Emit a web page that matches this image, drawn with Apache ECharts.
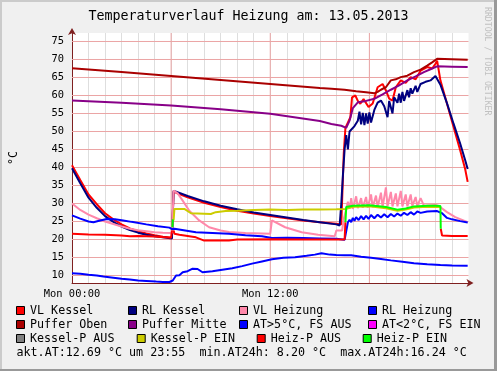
<!DOCTYPE html>
<html><head><meta charset="utf-8">
<script src="https://cdn.jsdelivr.net/npm/echarts@6/dist/echarts.min.js"></script>
<style>html,body{margin:0;padding:0;background:#F0F0F0}#c{width:497px;height:371px}</style>
</head><body><div id="c"></div>
<script>
// ---- data (x = hour of day, y = °C) ----
const vlKessel = [[0,40.6],[0.5,36.5],[1,32.5],[1.5,29.8],[2,27.3],[2.5,25.6],[3,24.2],[3.5,23.1],[4,22.3],[4.5,21.7],[5,21.2],[5.5,20.8],[6.05,20.5],[6.15,33.3],[6.3,33.0],[7,31.7],[8,30.2],[9,29.0],[10,28.0],[11,27.2],[12,26.5],[13,25.9],[14,25.3],[15,24.8],[16,24.4],[16.3,24.2],[16.45,44],[16.55,51],[16.85,54],[16.95,59.5],[17.15,60],[17.3,58.5],[17.45,57.7],[17.65,59],[17.95,56.8],[18.2,57.8],[18.5,62.3],[18.8,63.2],[19.0,61.4],[19.2,59.1],[19.4,58.6],[19.6,62.3],[19.9,64.2],[20.2,63.5],[20.5,65.1],[20.8,64.5],[21.1,66.9],[21.5,67.9],[21.8,67.5],[22.0,68.8],[22.1,69.7],[22.3,64.2],[22.7,57.7],[23.1,51.2],[23.5,44.7],[23.8,39.5],[23.95,36]];
const rlKessel = [[0,39.8],[0.5,35.6],[1,31.6],[1.5,28.8],[2,26.5],[2.5,24.9],[3,23.6],[3.5,22.6],[4,21.9],[4.5,21.3],[5,20.9],[5.5,20.6],[6.05,20.3],[6.15,33.5],[6.3,33.3],[7,32.1],[8,30.6],[9,29.4],[10,28.4],[11,27.5],[12,26.8],[13,26.1],[14,25.4],[15,24.8],[16,24.2],[16.2,23.9],[16.3,30],[16.4,38],[16.5,45],[16.6,49],[16.7,45],[16.8,50],[16.9,50.5],[17.1,51.5],[17.3,53],[17.4,55.5],[17.5,52],[17.6,55.2],[17.7,51.8],[17.8,55],[17.9,52.2],[18.0,55.3],[18.1,52.5],[18.3,56],[18.5,58],[18.7,58.6],[18.9,57],[19.1,54],[19.2,58.5],[19.4,55],[19.5,59.5],[19.7,58],[19.8,60.5],[19.9,58],[20.0,61],[20.1,58.5],[20.3,61.5],[20.4,59.5],[20.5,62],[20.6,60.5],[20.8,62.7],[20.9,61],[21.1,63.2],[21.4,63.8],[21.7,64.2],[22.0,65.4],[22.1,65.6],[22.3,63],[22.7,57.8],[23.1,52.1],[23.5,46.6],[23.8,42],[23.95,39.6]];
const vlHeizung = [[0,30.0],[0.5,28.2],[1,26.9],[1.5,25.9],[2,25.0],[2.5,24.3],[3,23.6],[3.5,23.0],[4,22.6],[4.5,22.3],[5,22.0],[5.5,21.9],[6.05,21.8],[6.15,33.6],[6.4,32.8],[6.7,30.8],[7.1,28.0],[7.7,25.3],[8.3,23.4],[9,22.5],[9.5,22.1],[10.5,21.8],[12.0,21.6],[12.1,25.3],[12.9,23.4],[13.9,22.0],[14.9,21.3],[15.9,20.9],[16.0,22.5],[16.35,22.5],[16.45,25.7],[16.6,28.5],[16.7,30.5],[16.8,28.5],[16.9,31.5],[17.0,28.5],[17.2,32],[17.3,28.7],[17.5,31.5],[17.6,28.8],[17.8,31.8],[17.9,28.8],[18.1,32.5],[18.2,28.9],[18.4,32.2],[18.5,29],[18.7,33],[18.8,29],[19.0,34.5],[19.1,29.2],[19.3,33.2],[19.4,29.2],[19.6,32.8],[19.7,29.2],[19.9,33.5],[20.0,29.2],[20.2,32.5],[20.3,29.2],[20.5,32.5],[20.6,29.3],[20.8,31.8],[20.9,29.3],[21.1,31.5],[21.3,29.4],[22.0,29.6],[22.2,29.3],[22.7,27.6],[23.2,26.2],[23.95,24.8]];
const rlHeizung = [[0,26.7],[0.5,25.8],[1,25.0],[1.3,24.8],[1.7,25.3],[2.1,25.7],[2.6,25.6],[3.1,25.3],[3.6,24.9],[4.5,24.2],[5.2,23.7],[5.9,23.3],[6.05,22.9],[6.2,23.0],[7.5,22.0],[8.5,21.8],[9.5,21.6],[10.5,21.2],[11.5,20.9],[12.1,20.4],[13,20.5],[14,20.4],[15,20.3],[16,20.2],[16.5,19.9],[16.6,19.7],[16.7,24.8],[16.8,25.5],[16.9,24.8],[17.0,26.0],[17.1,25.2],[17.2,26.2],[17.35,25.4],[17.5,26.5],[17.65,25.6],[17.8,26.6],[17.95,25.7],[18.1,26.8],[18.3,25.9],[18.5,26.9],[18.7,26.1],[18.9,27.0],[19.1,26.2],[19.3,27.1],[19.5,26.4],[19.7,27.2],[19.9,26.6],[20.1,27.4],[20.3,26.8],[20.5,27.6],[20.7,26.9],[20.9,27.8],[21.1,27.4],[21.5,27.8],[22.1,27.9],[22.4,27.3],[22.7,26.0],[23.0,25.6],[23.5,25.1],[23.95,24.7]];
const pufferOben = [[0,67.6],[3,66.5],[6,65.4],[9,64.3],[12,63.2],[15,62.1],[15.7,61.9],[16.5,61.6],[17.2,61.2],[17.8,60.9],[18.3,60.6],[18.5,61.0],[18.7,61.6],[19.0,62.3],[19.3,64.2],[19.6,64.5],[19.9,65.1],[20.3,65.5],[20.7,66.5],[21.1,67.2],[21.5,68.3],[21.8,69.2],[22.1,70.2],[23,70.1],[23.95,69.9]];
const pufferMitte = [[0,58.6],[3,58.0],[6,57.2],[9,56.2],[12,54.9],[15,52.9],[15.7,52.1],[16.3,51.6],[16.6,51.0],[16.8,53],[17.0,56.5],[17.3,58.1],[17.8,58.5],[18.3,59.1],[18.8,60.3],[19.3,61.6],[19.8,62.8],[20.3,64.2],[20.8,65.3],[21.3,66.5],[21.7,67.3],[22.1,68.1],[23,68.0],[23.95,67.9]];
const atWarm = [[0,10.6],[0.5,10.5],[1,10.2],[1.5,10.0],[1.9,9.7],[2.5,9.4],[3,9.1],[3.5,8.9],[4,8.6],[4.5,8.5],[5.1,8.3],[5.5,8.2],[5.9,8.2],[6.1,8.6],[6.3,10.0],[6.5,10.1],[6.7,10.9],[7.0,11.2],[7.3,11.9],[7.6,11.8],[7.9,10.9],[8.5,11.2],[9.1,11.6],[9.7,12.0],[10.3,12.6],[10.9,13.3],[11.5,13.9],[12.1,14.5],[12.8,14.9],[13.5,15.1],[14.2,15.5],[14.7,15.8],[15.1,16.2],[15.6,15.8],[16.0,15.7],[16.5,15.6],[16.9,15.6],[17.5,15.2],[18.1,14.9],[18.7,14.6],[19.3,14.2],[20.0,13.8],[20.7,13.4],[21.5,13.1],[22.3,12.9],[23.0,12.8],[23.95,12.7]];
const atCold = [];
const kesselPAus = [];
const kesselPEin = [[6.15,25.3],[6.2,28.5],[6.8,28.5],[7.2,27.3],[8.4,27.1],[8.7,27.6],[9.3,27.9],[10,28.0],[11,28.2],[12,28.3],[13,28.2],[14,28.3],[15,28.3],[16,28.4],[16.6,28.5],[17.0,29.1],[18.0,29.2],[19.0,28.7],[19.7,28.0],[20.2,28.3],[20.7,28.9],[21.5,29.1],[22.3,29.0]];
const heizPAus1 = [[0,21.6],[1,21.4],[2,21.3],[3,21.1],[3.5,20.9],[4,21.0],[5,20.8],[6.0,20.5],[6.05,22.5]];
const heizPAus2 = [[6.15,22.5],[6.2,21.6],[6.5,21.3],[7.5,20.6],[8,19.7],[9.5,19.7],[10,20.0],[12,20.1],[14,20.0],[16.5,20.0],[16.55,24.8]];
const heizPAus3 = [[22.32,23.0],[22.4,21.1],[23,21.0],[23.95,21.0]];
const heizPEin1 = [[6.08,23.4],[6.1,25.6]];
const heizPEin2 = [[16.55,24.8],[16.6,29.0],[17.0,29.4],[18.0,29.5],[19.0,29.0],[19.7,28.3],[20.2,28.6],[20.7,29.2],[21.5,29.4],[22.0,29.4],[22.3,29.3],[22.32,23.0]];

const yTicks = [10,15,20,25,30,35,40,45,50,55,60,65,70,75];
const xMajorHours = [6,12,18];
const xLabelHours = [0,12];
const xLabelTexts = ['Mon 00:00','Mon 12:00'];

const legendNames = ['VL Kessel','RL Kessel','VL Heizung','RL Heizung','Puffer Oben','Puffer Mitte','AT>5°C, FS AUS','AT<2°C, FS EIN','Kessel-P AUS','Kessel-P EIN','Heiz-P AUS','Heiz-P EIN'];
const legendColors = ['#FF0000','#000080','#FF88AA','#0000FF','#AA0000','#880088','#0000FF','#FF00FF','#808080','#CCCC00','#FF0000','#00FF00'];
const footerText = 'akt.AT:12.69 °C um 23:55  min.AT24h: 8.20 °C  max.AT24h:16.24 °C';
const titleText = 'Temperaturverlauf Heizung am: 13.05.2013';

// ---- layout ----
const MONO = 'DejaVu Sans Mono';
const MGRID = '#EBA5A5';
const Y_MIN = 7.917, Y_MAX = 77.361, X_MIN = 0, X_MAX = 24;
const legendPos = [[16,311],[128,311],[239,311],[368,311],[16,325],[128,325],[239,325],[368,325],[16,339],[136.7,339],[256.7,339],[362.7,339]];

const seriesDefs = [
  [vlKessel,0],[rlKessel,1],[vlHeizung,2],[rlHeizung,3],[pufferOben,4],[pufferMitte,5],
  [atWarm,6],[atCold,7],[kesselPAus,8],[kesselPEin,9],
  [heizPAus1,10],[heizPAus2,10],[heizPAus3,10],[heizPEin1,11],[heizPEin2,11]
];
const gridSeries = yTicks.map(v => [[X_MIN,v],[X_MAX,v]])
  .concat(xMajorHours.map(h => [[h,Y_MIN],[h,Y_MAX]]))
  .map(d => ({type:'line', data:d, showSymbol:false, symbol:'none', silent:true, z:1, animation:false,
    lineStyle:{width:1, color:MGRID}}));
const series = gridSeries.concat(seriesDefs.map(([d,i]) => ({
  type:'line', name:legendNames[i], data:d, showSymbol:false, symbol:'none', z:2,
  lineStyle:{width:2,color:legendColors[i]}, itemStyle:{color:legendColors[i]},
  silent:true, animation:false
})));

const graphics = [];
legendNames.forEach((n,i) => {
  const [x,y] = legendPos[i];
  graphics.push({type:'rect', shape:{x:x+0.5,y:y-4.5,width:8,height:8},
    style:{fill:legendColors[i], stroke:'#000', lineWidth:1}});
  graphics.push({type:'text', x:x+14, y:y, style:{text:n, font:'11.7px "'+MONO+'"', fill:'#000', textVerticalAlign:'middle', textAlign:'left'}});
});
graphics.push({type:'text', x:16.5, y:353, style:{text:footerText, font:'11.7px "'+MONO+'"', fill:'#000', textVerticalAlign:'middle'}});
graphics.push({type:'text', x:487, y:7, rotation:-Math.PI/2, style:{text:'RRDTOOL / TOBI OETIKER', font:'8.2px "'+MONO+'"', fill:'#C0C0C0', textVerticalAlign:'middle', textAlign:'left'}});
// frame
graphics.push({type:'rect', shape:{x:0,y:0,width:497,height:2}, style:{fill:'#CBCBCB'}});
graphics.push({type:'rect', shape:{x:0,y:0,width:2,height:371}, style:{fill:'#CBCBCB'}});
graphics.push({type:'rect', shape:{x:494,y:0,width:3,height:371}, style:{fill:'#999999'}});
graphics.push({type:'rect', shape:{x:0,y:369,width:497,height:2}, style:{fill:'#999999'}});

const chart = echarts.init(document.getElementById('c'), null, {renderer:'canvas'});
chart.setOption({
  backgroundColor:'#F0F0F0',
  animation:false,
  title:{text:titleText, left:'center', top:10, padding:0,
    textStyle:{fontFamily:MONO, fontSize:13.3, fontWeight:'normal', color:'#000'}},
  grid:{left:68.5, top:33, width:400, height:250, show:true, backgroundColor:'#FFFFFF', borderWidth:0},
  xAxis:{type:'value', min:X_MIN, max:X_MAX, interval:1,
    axisLine:{show:true, onZero:false, lineStyle:{color:'#7F2020',width:1}, symbol:['none','arrow'], symbolSize:[6,7], symbolOffset:[0,5]},
    axisTick:{show:false},
    axisLabel:{margin:6, fontFamily:MONO, fontSize:10.4, color:'#000', showMinLabel:true, showMaxLabel:true,
      formatter:v => { const k = xLabelHours.indexOf(v); return k>=0 ? xLabelTexts[k] : ''; }},
    splitLine:{show:true, showMaxLine:false, lineStyle:{width:1, color:'#DEDEDE'}}
  },
  yAxis:{type:'value', min:Y_MIN, max:Y_MAX,
    name:'°C', nameLocation:'middle', nameGap:52, nameRotate:90,
    nameTextStyle:{fontFamily:MONO, fontSize:11.7, color:'#000'},
    axisLine:{show:true, onZero:false, lineStyle:{color:'#7F2020',width:1}, symbol:['none','arrow'], symbolSize:[6,7], symbolOffset:[0,5]},
    axisTick:{show:false, customValues:yTicks},
    axisLabel:{customValues:yTicks, margin:8, fontFamily:MONO, fontSize:10.4, color:'#000'},
    splitLine:{show:false}
  },
  graphic:graphics,
  series:series
});
</script></body></html>
